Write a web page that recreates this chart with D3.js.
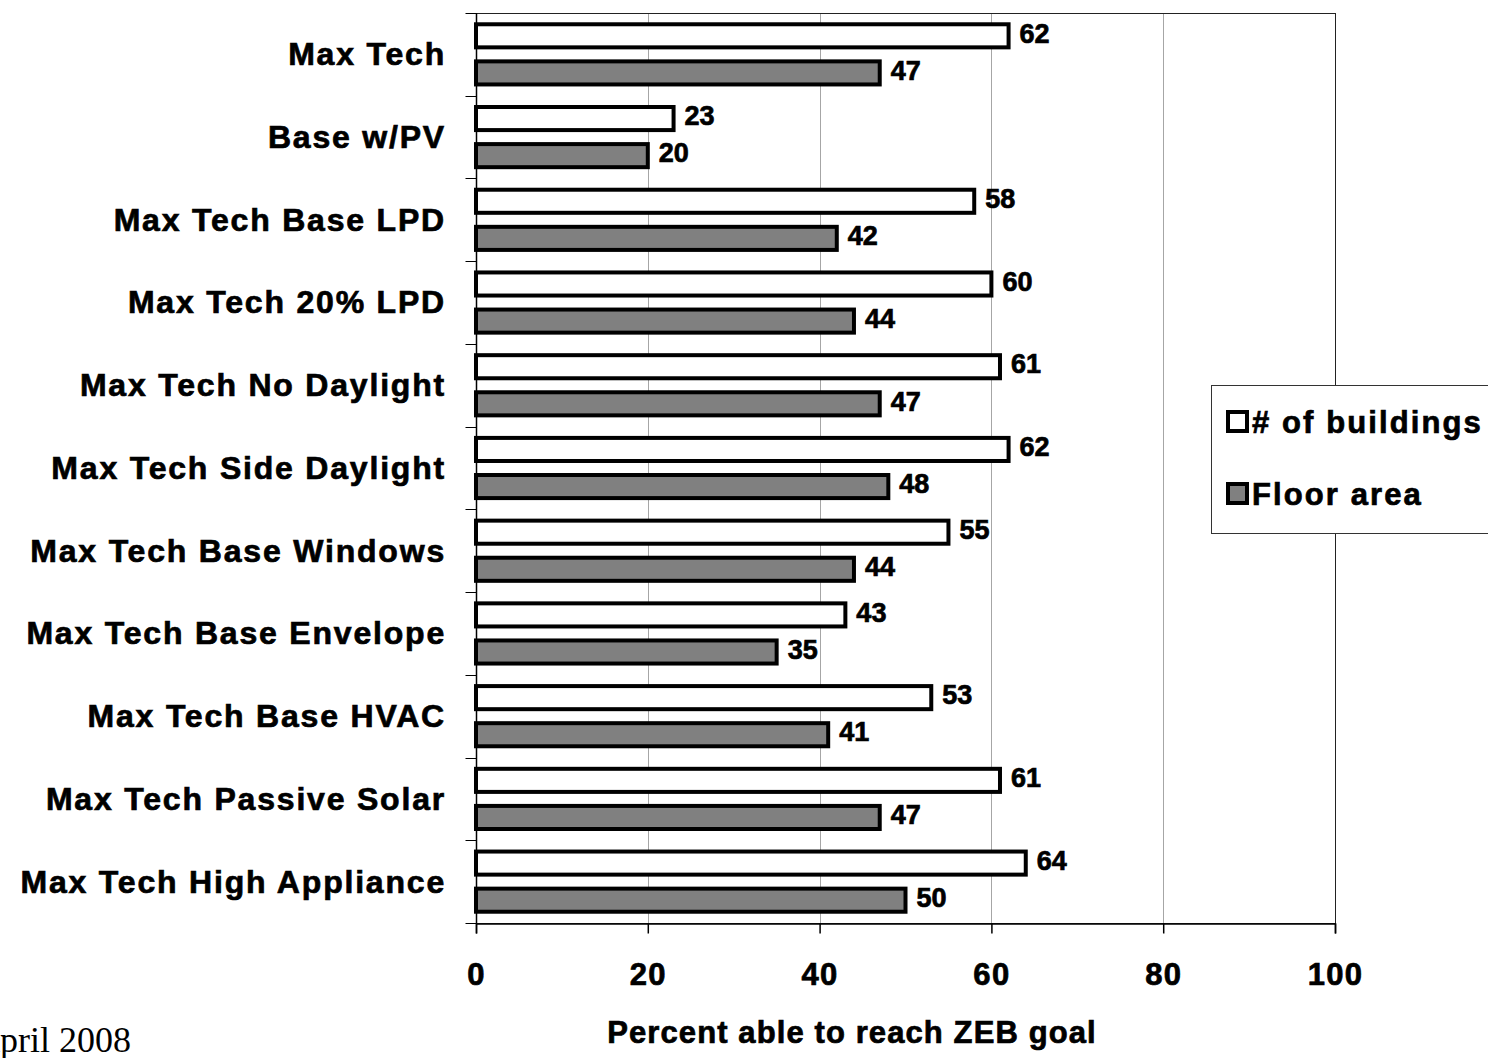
<!DOCTYPE html>
<html>
<head>
<meta charset="utf-8">
<script src="https://cdn.jsdelivr.net/npm/d3@7"></script>
<style>
  html, body { margin: 0; padding: 0; background: #fff; overflow: hidden; }
  svg { display: block; }
  /* heavier bold text, like the slide's Arial Bold */
  text.heavy { stroke: #000; stroke-width: 0.7px; paint-order: stroke; }
</style>
</head>
<body>
<svg id="chart" width="1488" height="1058"></svg>
<script>
// Scenario names, top to bottom
const categories = [
  "Max Tech",
  "Base w/PV",
  "Max Tech Base LPD",
  "Max Tech 20% LPD",
  "Max Tech No Daylight",
  "Max Tech Side Daylight",
  "Max Tech Base Windows",
  "Max Tech Base Envelope",
  "Max Tech Base HVAC",
  "Max Tech Passive Solar",
  "Max Tech High Appliance"
];
// Percent of buildings able to reach the ZEB goal
const buildings = [62, 23, 58, 60, 61, 62, 55, 43, 53, 61, 64];
// Percent of floor area able to reach the ZEB goal
const floorArea = [47, 20, 42, 44, 47, 48, 44, 35, 41, 47, 50];
const seriesNames = ["# of buildings", "Floor area"];
const seriesFill = ["#ffffff", "#808080"];
const xTicks = [0, 20, 40, 60, 80, 100];

const svg = d3.select("#chart");
const plotLeft = 476, plotRight = 1335, plotTop = 13, plotBottom = 923;
const FONT = "Arial, 'Liberation Sans', Helvetica, sans-serif";

const x = d3.scaleLinear().domain([0, 100]).range([plotLeft, plotRight]);
const y = d3.scaleBand().domain(categories).range([plotTop, plotBottom]).padding(0);
const ySub = d3.scaleBand().domain([0, 1]).range([0, y.bandwidth()])
  .paddingInner(0.27).paddingOuter(0.25);

const rows = categories.map((c, i) => ({ cat: c, vals: [buildings[i], floorArea[i]] }));

// vertical gridlines
svg.append("g")
  .selectAll("line")
  .data(xTicks.filter(t => t > 0 && t < 100))
  .join("line")
  .attr("x1", d => Math.round(x(d)) + 0.5)
  .attr("x2", d => Math.round(x(d)) + 0.5)
  .attr("y1", plotTop).attr("y2", plotBottom)
  .attr("stroke", "#a6a6a6").attr("stroke-width", 1);

// plot frame
svg.append("rect")
  .attr("x", plotLeft + 0.5).attr("y", plotTop + 0.5)
  .attr("width", plotRight - plotLeft).attr("height", plotBottom - plotTop)
  .attr("fill", "none").attr("stroke", "#222").attr("stroke-width", 1);

// bars
const groups = svg.append("g").selectAll("g")
  .data(rows).join("g")
  .attr("transform", d => `translate(0,${y(d.cat)})`);

const SW = 4;
groups.selectAll("rect")
  .data(d => d.vals.map((v, k) => ({ v, k })))
  .join("rect")
  .attr("x", x(0))
  .attr("y", d => ySub(d.k) + SW / 2)
  .attr("width", d => x(d.v) - x(0))
  .attr("height", ySub.bandwidth() - SW)
  .attr("fill", d => seriesFill[d.k])
  .attr("stroke", "#000")
  .attr("stroke-width", SW);

// value labels
groups.selectAll("text")
  .data(d => d.vals.map((v, k) => ({ v, k })))
  .join("text")
  .attr("class", "heavy")
  .attr("x", d => x(d.v) + 11)
  .attr("y", d => ySub(d.k) + ySub.bandwidth() / 2 - 3)
  .attr("dy", "0.36em")
  .attr("font-family", FONT)
  .attr("font-weight", "bold")
  .attr("font-size", 27)
  .attr("fill", "#000")
  .text(d => d.v);

// y axis: line, ticks at category boundaries, labels
const yAxis = svg.append("g").attr("transform", `translate(${plotLeft + 0.5},0)`);
yAxis.append("line").attr("x1", 0).attr("x2", 0).attr("y1", plotTop).attr("y2", plotBottom)
  .attr("stroke", "#000").attr("stroke-width", 1.5);
yAxis.selectAll("line.tick")
  .data(categories.map(c => y(c)).concat([plotBottom]))
  .join("line").attr("class", "tick")
  .attr("x1", -11).attr("x2", 0)
  .attr("y1", d => Math.round(d) + 0.5).attr("y2", d => Math.round(d) + 0.5)
  .attr("stroke", "#000").attr("stroke-width", 1);
svg.append("g").selectAll("text")
  .data(categories).join("text")
  .attr("class", "heavy")
  .attr("x", 446)
  .attr("y", d => y(d) + y.bandwidth() / 2)
  .attr("dy", "0.34em")
  .attr("text-anchor", "end")
  .attr("font-family", FONT)
  .attr("font-weight", "bold")
  .attr("font-size", 32)
  .attr("letter-spacing", 1.8)
  .attr("fill", "#000")
  .text(d => d);

// x axis
const xAxis = d3.axisBottom(x).tickValues(xTicks).tickSize(10).tickPadding(29)
  .tickFormat(d3.format("d"));
const gx = svg.append("g").attr("transform", `translate(0,${plotBottom + 0.5})`).call(xAxis);
gx.select(".domain").attr("stroke", "#000").attr("stroke-width", 1.5);
gx.selectAll(".tick line").attr("stroke", "#000").attr("stroke-width", 1.5);
gx.selectAll(".tick text")
  .attr("class", "heavy")
  .attr("font-family", FONT)
  .attr("font-weight", "bold")
  .attr("font-size", 31)
  .attr("letter-spacing", 1.3)
  .attr("fill", "#000");

// axis title
svg.append("text")
  .attr("class", "heavy")
  .attr("x", 852).attr("y", 1043)
  .attr("text-anchor", "middle")
  .attr("font-family", FONT)
  .attr("font-weight", "bold")
  .attr("font-size", 31)
  .attr("letter-spacing", 1.1)
  .text("Percent able to reach ZEB goal");

// legend
const lg = svg.append("g");
lg.append("rect")
  .attr("x", 1211.5).attr("y", 385.5).attr("width", 300).attr("height", 148)
  .attr("fill", "#fff").attr("stroke", "#333").attr("stroke-width", 1);
const legendRows = [433, 505];
seriesNames.forEach((name, k) => {
  lg.append("rect")
    .attr("x", 1228).attr("y", legendRows[k] - 21)
    .attr("width", 19).attr("height", 19)
    .attr("fill", seriesFill[k]).attr("stroke", "#000").attr("stroke-width", 4);
  lg.append("text")
    .attr("class", "heavy")
    .attr("x", 1252).attr("y", legendRows[k])
    .attr("font-family", FONT)
    .attr("font-weight", "bold")
    .attr("font-size", 31)
    .attr("letter-spacing", 2.1)
    .text(name);
});

// footer date (runs off the left edge of the slide)
svg.append("text")
  .attr("x", -26).attr("y", 1052)
  .attr("font-family", "'Times New Roman', 'Liberation Serif', serif")
  .attr("font-size", 36)
  .text("April 2008");
</script>
</body>
</html>
